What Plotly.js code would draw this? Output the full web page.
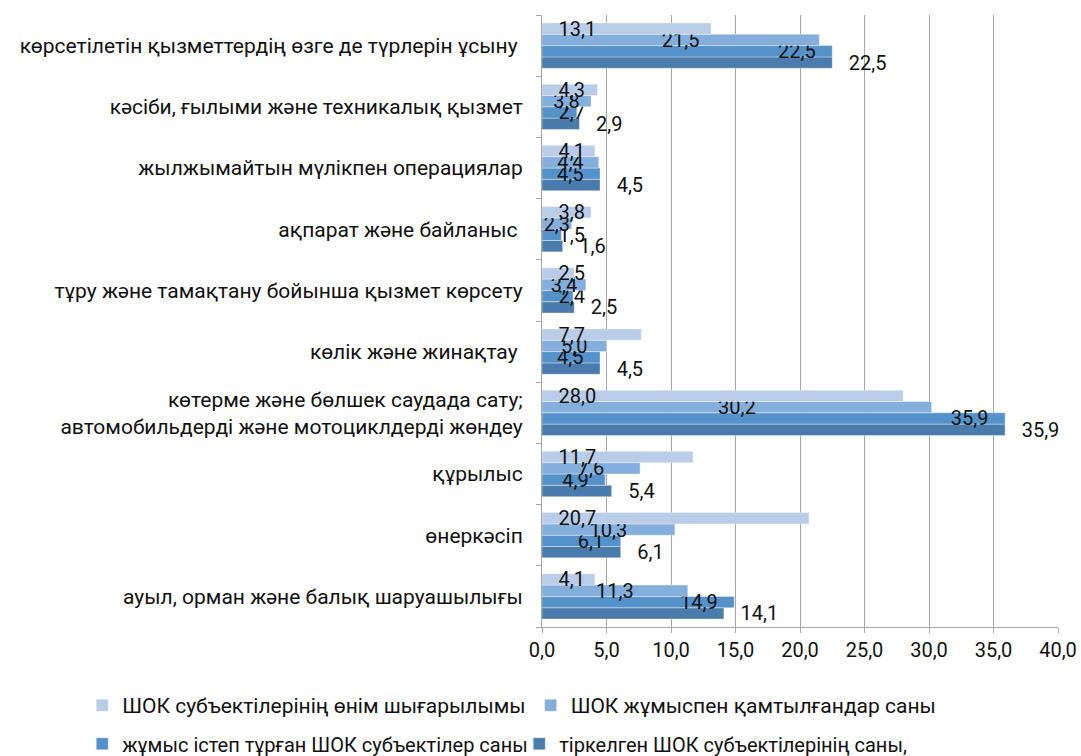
<!DOCTYPE html>
<html>
<head>
<meta charset="utf-8">
<script src="https://cdn.plot.ly/plotly-3.0.1.min.js"></script>
<style>html,body{margin:0;padding:0;background:#fff;}</style>
</head>
<body>
<div id="chart" style="width:1081px;height:756px;"></div>
<script>
const categories = [
  "ауыл, орман және балық шаруашылығы",
  "өнеркәсіп",
  "құрылыс",
  "көтерме және бөлшек саудада сату;<br>автомобильдерді және мотоциклдерді жөндеу",
  "көлік және жинақтау\u00a0",
  "тұру және тамақтану бойынша қызмет көрсету",
  "ақпарат және байланыс\u00a0",
  "жылжымайтын мүлікпен операциялар",
  "кәсіби, ғылыми және техникалық қызмет",
  "көрсетілетін қызметтердің өзге де түрлерін ұсыну\u00a0"
];
const seriesNames = [
  "ШОК субъектілерінің өнім шығарылымы",
  "ШОК жұмыспен қамтылғандар саны",
  "жұмыс істеп тұрған ШОК субъектілер саны",
  "тіркелген ШОК субъектілерінің саны,"
];
const outputShare   = [4.1, 20.7, 11.7, 28.0, 7.7, 2.5, 3.8, 4.1, 4.3, 13.1];
const employedShare = [11.3, 10.3, 7.6, 30.2, 5.0, 3.4, 2.3, 4.4, 3.8, 21.5];
const activeShare   = [14.9, 6.1, 4.9, 35.9, 4.5, 2.4, 1.5, 4.5, 2.7, 22.5];
const registeredShare = [14.1, 6.1, 5.4, 35.9, 4.5, 2.5, 1.6, 4.5, 2.9, 22.5];
const tickValues = [0, 5, 10, 15, 20, 25, 30, 35, 40];

const colors = ["#B9CDE8", "#84AEDB", "#5592C9", "#4A7BAD"];
const font = "Roboto, 'Open Sans', sans-serif";
const LABEL_SIZE = 20;

function fmt(v){ return v.toFixed(1).replace('.', ','); }
const PAD = "\u2002\u2006";
// labels of short bars cannot sit at the bar's end, they start at the base instead
const SHORT = 3;

function mk(idx, vals, pos, anchor, legendName, group){
  let labels = vals.map(fmt);
  if (pos === 'outside' || anchor === 'start') labels = labels.map(s => PAD + s);
  if (anchor === 'end') labels = labels.map((s, i) => vals[i] < SHORT ? '' : s + PAD);
  const t = {
    type: 'bar', orientation: 'h',
    name: seriesNames[idx],
    x: vals, y: categories,
    text: labels,
    textposition: pos,
    textangle: 0,
    constraintext: 'none',
    cliponaxis: false,
    offsetgroup: group, alignmentgroup: 'all',
    textfont: {family: font, size: LABEL_SIZE, color: '#111'},
    insidetextfont: {family: font, size: LABEL_SIZE, color: '#111'},
    outsidetextfont: {family: font, size: LABEL_SIZE, color: '#111'},
    marker: {color: colors[idx], line: {color: 'rgba(255,255,255,0.6)', width: 0.6}},
    legend: legendName,
    legendrank: idx + 1,
    hoverinfo: 'x+name'
  };
  if (anchor) t.insidetextanchor = anchor;
  return t;
}

// text-only companion of series 3 for its short bars
const activeShortLabels = {
  type: 'bar', orientation: 'h',
  x: activeShare, y: categories,
  text: activeShare.map(v => v < SHORT ? PAD + fmt(v) : ''),
  textposition: 'inside', insidetextanchor: 'start',
  textangle: 0, constraintext: 'none', cliponaxis: false,
  offsetgroup: 'c', alignmentgroup: 'all',
  insidetextfont: {family: font, size: LABEL_SIZE, color: '#111'},
  marker: {color: 'rgba(0,0,0,0)', line: {width: 0}},
  showlegend: false, hoverinfo: 'skip'
};

const data = [
  mk(3, registeredShare, 'outside', null, 'legend2', 'd'),
  mk(2, activeShare, 'inside', 'end', 'legend2', 'c'),
  activeShortLabels,
  mk(1, employedShare, 'inside', 'middle', 'legend', 'b'),
  mk(0, outputShare, 'inside', 'start', 'legend', 'a')
];

const layout = {
  width: 1081, height: 756,
  margin: {l: 542, r: 23, t: 15, b: 129, autoexpand: false},
  paper_bgcolor: '#fff', plot_bgcolor: '#fff',
  separators: ', ',
  barmode: 'group',
  bargap: 0.26,
  bargroupgap: 0,
  font: {family: font, size: 20, color: '#111'},
  xaxis: {
    range: [0, 40],
    tickvals: tickValues,
    ticktext: tickValues.map(fmt),
    showgrid: true, gridcolor: '#A6A6A6', gridwidth: 1,
    zeroline: false,
    showline: true, linecolor: '#A6A6A6', linewidth: 1,
    ticks: 'outside', ticklen: 5, tickcolor: '#A6A6A6',
    tickfont: {family: font, size: 20, color: '#111'},
    automargin: false,
    fixedrange: true
  },
  yaxis: {
    type: 'category',
    showline: true, linecolor: '#A6A6A6', linewidth: 1,
    ticks: 'outside', ticklen: 5, tickcolor: '#A6A6A6',
    tickson: 'boundaries',
    ticklabelstandoff: 14,
    tickfont: {family: font, size: 21, color: '#111'},
    showgrid: false,
    automargin: false,
    fixedrange: true
  },
  legend: {
    orientation: 'h', x: -0.891, xanchor: 'left', y: -0.095, yanchor: 'top',
    font: {family: font, size: 21, color: '#111'},
    itemwidth: 30, traceorder: 'normal'
  },
  legend2: {
    orientation: 'h', x: -0.891, xanchor: 'left', y: -0.159, yanchor: 'top',
    font: {family: font, size: 20, color: '#111'},
    itemwidth: 30, traceorder: 'normal',
    entrywidth: 392
  },
  showlegend: true
};

Plotly.newPlot('chart', data, layout, {displayModeBar: false, staticPlot: true});
</script>
</body>
</html>
